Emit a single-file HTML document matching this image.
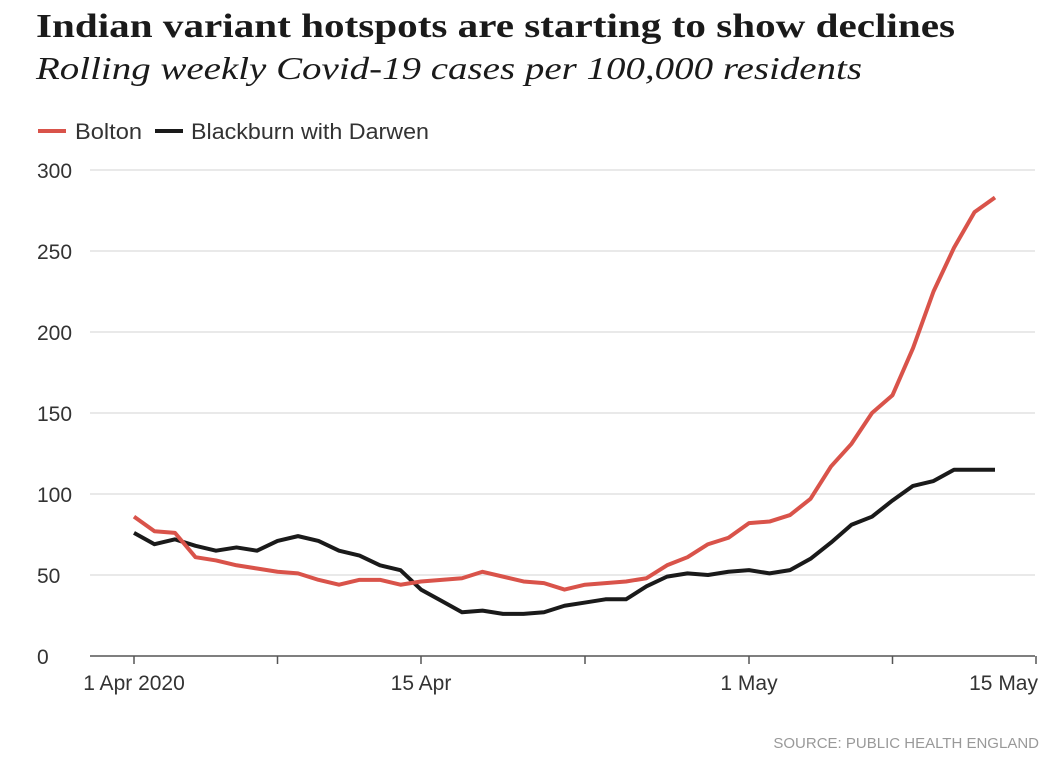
<!DOCTYPE html>
<html><head><meta charset="utf-8"><style>
body{margin:0;background:#fff;width:1060px;height:774px;overflow:hidden}
svg text{font-family:"Liberation Sans",sans-serif}
</style></head><body>
<svg width="1060" height="774">
<text x="36" y="37" font-weight="bold" font-size="34" fill="#1a1a1a" textLength="919" lengthAdjust="spacingAndGlyphs" style="font-family:'Liberation Serif',serif">Indian variant hotspots are starting to show declines</text>
<text x="36" y="79" font-size="32" font-style="italic" fill="#1a1a1a" textLength="826" lengthAdjust="spacingAndGlyphs" style="font-family:'Liberation Serif',serif">Rolling weekly Covid-19 cases per 100,000 residents</text>
<g>
<line x1="38" y1="131" x2="66" y2="131" stroke="#d9534a" stroke-width="4"/>
<text x="75" y="139" font-size="22" fill="#333" textLength="67" lengthAdjust="spacingAndGlyphs">Bolton</text>
<line x1="155" y1="131" x2="183" y2="131" stroke="#1a1a1a" stroke-width="4"/>
<text x="191" y="139" font-size="22" fill="#333" textLength="238" lengthAdjust="spacingAndGlyphs">Blackburn with Darwen</text>
</g>
<g id="grid"></g><g id="xax"></g><g id="lines"></g>
<text x="1039" y="748" text-anchor="end" font-size="15" fill="#999">SOURCE: PUBLIC HEALTH ENGLAND</text>
</svg>
<script>
const yTicks=[0,50,100,150,200,250,300];
const xTickDays=[0,14,30,44];
const xTickLabels=["1 Apr 2020","15 Apr","1 May","15 May"];
const minorDays=[7,22,37];
const bolton=[86,77,76,61,59,56,54,52,51,47,44,47,47,44,46,47,48,52,49,46,45,41,44,45,46,48,56,61,69,73,82,83,87,97,117,131,150,161,190,225,252,274,283];
const blackburn=[76,69,72,68,65,67,65,71,74,71,65,62,56,53,41,34,27,28,26,26,27,31,33,35,35,43,49,51,50,52,53,51,53,60,70,81,86,96,105,108,115,115,115];
const NS="http://www.w3.org/2000/svg";
const X=d=>134+d*20.5, Y=v=>656-v*1.62;
function mk(t,a,p){const e=document.createElementNS(NS,t);for(const k in a)e.setAttribute(k,a[k]);p.appendChild(e);return e;}
const g=document.getElementById('grid');
yTicks.forEach(v=>{
 if(v>0){const l=mk('line',{x1:90,x2:1035,y1:Y(v),y2:Y(v),stroke:'#e2e2e2','stroke-width':1.5},g);
 
 }
 const t=mk('text',{x:37,y:Y(v)+8,'font-size':21,fill:'#333'},g);t.textContent=v;
 
 
});
const xa=document.getElementById('xax');
const ax=mk('line',{x1:90,x2:1035,y1:656,y2:656,stroke:'#555','stroke-width':1.5},xa);


xTickDays.concat(minorDays).forEach(d=>{const l=mk('line',{x1:X(d),x2:X(d),y1:656,y2:664,stroke:'#555','stroke-width':1.5},xa);
 
 });
xTickDays.forEach((d,i)=>{const t=mk('text',{x:X(d),y:690,'font-size':21,fill:'#333','text-anchor':i==3?'end':'middle'},xa);
 if(i==3)t.setAttribute('x',X(d)+2);
 t.textContent=xTickLabels[i];
 
 });
const lg=document.getElementById('lines');
[[bolton,'#d9534a','bolton-line'],[blackburn,'#1a1a1a','blackburn-line']].reverse().forEach(([s,c,n])=>{
 const p=mk('polyline',{points:s.map((v,i)=>X(i)+','+Y(v)).join(' '),fill:'none',stroke:c,'stroke-width':4,'stroke-linejoin':'round'},lg);
 
 
});
</script>
</body></html>
